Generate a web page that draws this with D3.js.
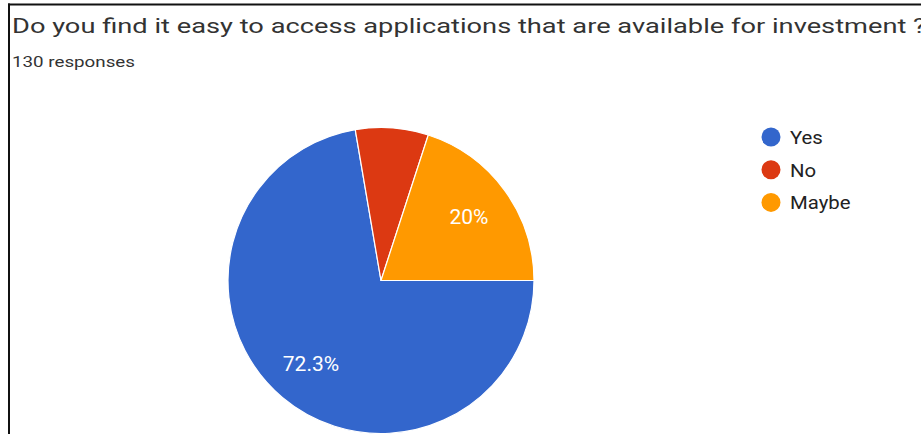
<!DOCTYPE html>
<html>
<head>
<meta charset="utf-8">
<script src="https://cdn.jsdelivr.net/npm/d3@7"></script>
<style>
  html, body { margin: 0; padding: 0; background: #fff; }
  svg { display: block; font-family: Roboto, "Noto Sans", Arial, sans-serif; }
</style>
</head>
<body>
<svg id="chart" width="921" height="434"></svg>
<script>
// Survey answers
const categories = ["Yes", "No", "Maybe"];
const counts = [94, 10, 26];
const colors = ["#3366cc", "#dc3912", "#ff9900"];
const titleText = "Do you find it easy to access applications that are available for investment ?";
const subtitleText = "130 responses";

const W = 921, H = 434;
const svg = d3.select("#chart");

// Widen a text element horizontally by factor k, keeping its glyphs
function stretch(sel, k) {
  sel.each(function () {
    const len = this.getComputedTextLength();
    d3.select(this).attr("textLength", len * k).attr("lengthAdjust", "spacingAndGlyphs");
  });
}

// Frame lines (top and left)
svg.append("line").attr("x1", 8).attr("x2", W).attr("y1", 4.5).attr("y2", 4.5)
  .attr("stroke", "#111").attr("stroke-width", 2);
svg.append("line").attr("x1", 9).attr("x2", 9).attr("y1", 3.5).attr("y2", H)
  .attr("stroke", "#111").attr("stroke-width", 2);

// Title and response count
svg.append("text").attr("x", 12).attr("y", 33)
  .attr("font-size", 21).attr("fill", "#333").text(titleText)
  .attr("textLength", 914).attr("lengthAdjust", "spacingAndGlyphs");
svg.append("text").attr("x", 12).attr("y", 67)
  .attr("font-size", 15.5).attr("fill", "#333").text(subtitleText)
  .attr("textLength", 123).attr("lengthAdjust", "spacingAndGlyphs");

// Pie
const cx = 381, cy = 280.5, r = 153;
const total = d3.sum(counts);
const data = categories.map((c, i) => ({ name: c, value: counts[i], color: colors[i] }));

const pie = d3.pie().sort(null).value(d => d.value)
  .startAngle(Math.PI / 2).endAngle(Math.PI / 2 + 2 * Math.PI);
const arcs = pie(data);
const arc = d3.arc().innerRadius(0).outerRadius(r);
const labelArc = d3.arc().innerRadius(r * 0.71).outerRadius(r * 0.71);

const g = svg.append("g").attr("transform", `translate(${cx},${cy})`);
g.selectAll("path").data(arcs).join("path")
  .attr("d", arc)
  .attr("fill", d => d.data.color)
  .attr("stroke", "#fff")
  .attr("stroke-width", 1.2);

const pct = v => {
  const p = v / total * 100;
  return d3.format(".1f")(p).replace(/\.0$/, "") + "%";
};

// Percentage labels on slices large enough to hold them
g.selectAll("text.pct").data(arcs.filter(d => d.data.value / total >= 0.1)).join("text")
  .attr("class", "pct")
  .attr("transform", d => `translate(${labelArc.centroid(d)})`)
  .attr("text-anchor", "middle")
  .attr("dy", "0.36em")
  .attr("font-size", 21)
  .attr("fill", "#fff")
  .text(d => pct(d.data.value));

// Legend
const legend = svg.append("g").attr("transform", "translate(771,137)");
const item = legend.selectAll("g").data(data).join("g")
  .attr("transform", (d, i) => `translate(0,${i * 32.7})`);
item.append("circle").attr("r", 9.5).attr("fill", d => d.color);
item.append("text").attr("x", 19).attr("dy", "0.36em")
  .attr("font-size", 19).attr("fill", "#222").text(d => d.name)
  .call(stretch, 1.07);
</script>
</body>
</html>
